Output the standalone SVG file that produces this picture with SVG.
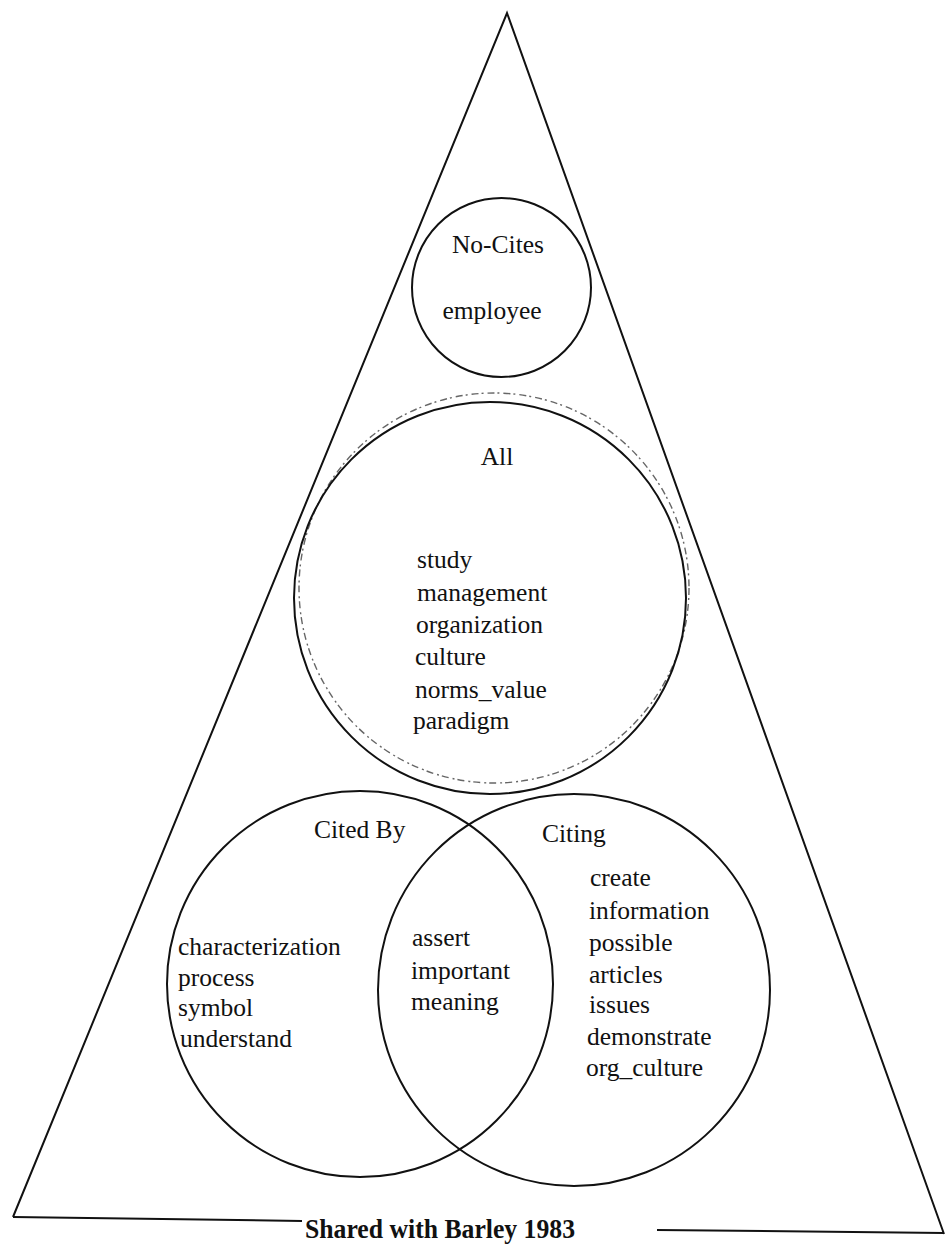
<svg xmlns="http://www.w3.org/2000/svg" width="945" height="1245" viewBox="0 0 945 1245">
<style>
.ln{fill:none;stroke:#111;stroke-width:2}
.t{font-family:"Liberation Serif","Times New Roman",serif;font-size:25.5px;fill:#111}
.f{fill:none;stroke:#666;stroke-width:1.4;stroke-dasharray:7 3 2 4}
</style>
<rect width="945" height="1245" fill="#fff"/>
<g id="frame">
<polyline class="ln" points="13,1217 507,13 944,1234"/>
<line class="ln" x1="13" y1="1217" x2="302" y2="1221"/>
<line class="ln" x1="657" y1="1230" x2="944" y2="1233"/>
<text x="305" y="1238" textLength="270" lengthAdjust="spacingAndGlyphs" font-family="Liberation Serif,serif" font-weight="bold" font-size="28" fill="#111">Shared with Barley 1983</text>
</g>
<g id="nocites">
<circle class="ln" cx="501.5" cy="287.5" r="89.5"/>
<text class="t" x="498" y="253" text-anchor="middle">No-Cites</text>
<text class="t" x="492" y="319" text-anchor="middle">employee</text>
</g>
<g id="all">
<circle class="f" cx="494" cy="588" r="195"/>
<circle class="ln" cx="490" cy="598" r="196"/>
<text class="t" x="497" y="465" text-anchor="middle">All</text>
<text class="t"><tspan x="417" y="568">study</tspan><tspan x="417" y="601">management</tspan><tspan x="416" y="633">organization</tspan><tspan x="415" y="665">culture</tspan><tspan x="415" y="698">norms_value</tspan><tspan x="413" y="729">paradigm</tspan></text>
</g>
<g id="citedby">
<circle class="ln" cx="360" cy="984" r="193"/>
<text class="t" x="314" y="838">Cited By</text>
<text class="t"><tspan x="178" y="955">characterization</tspan><tspan x="178" y="986">process</tspan><tspan x="178" y="1016">symbol</tspan><tspan x="180" y="1047">understand</tspan></text>
</g>
<g id="citing">
<circle class="ln" cx="574" cy="990" r="196"/>
<text class="t" x="542" y="842">Citing</text>
<text class="t"><tspan x="590" y="886">create</tspan><tspan x="589" y="919">information</tspan><tspan x="589" y="951">possible</tspan><tspan x="589" y="983">articles</tspan><tspan x="589" y="1013">issues</tspan><tspan x="587" y="1045">demonstrate</tspan><tspan x="586" y="1076">org_culture</tspan></text>
</g>
<g id="shared">
<text class="t"><tspan x="412" y="946">assert</tspan><tspan x="411" y="979">important</tspan><tspan x="411" y="1010">meaning</tspan></text>
</g>
<g id="connectors"></g>
</svg>
